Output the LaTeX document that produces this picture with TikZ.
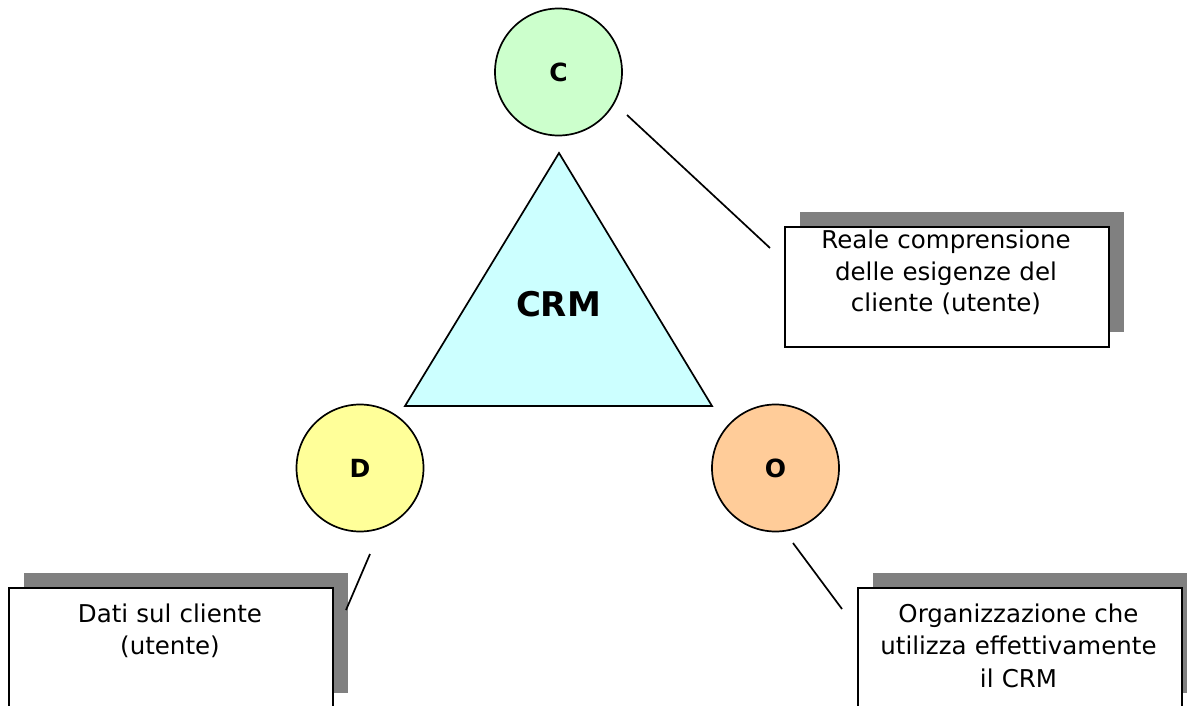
\documentclass[tikz,border=0pt]{standalone}
\usepackage{fontspec}
\setmainfont{DejaVu Sans}
\usetikzlibrary{shadows}
\definecolor{cgreen}{HTML}{CCFFCC}
\definecolor{tcyan}{HTML}{CCFFFF}
\definecolor{dyellow}{HTML}{FFFF99}
\definecolor{oorange}{HTML}{FFCC99}
\definecolor{shadowgray}{HTML}{808080}
\begin{document}
\begin{tikzpicture}[x=1pt,y=-1pt,
  circ/.style={circle,draw,line width=1.7pt,minimum size=127pt,inner sep=0pt,
    font=\fontsize{25}{30}\selectfont\bfseries},
  labelbox/.style={draw,fill=white,line width=1.9pt,minimum width=324pt,minimum height=120pt,
    inner sep=0pt,anchor=north west,
    drop shadow={shadow xshift=15pt,shadow yshift=15pt,opacity=1,fill=shadowgray}},
  labeltext/.style={text width=320pt,align=center,inner sep=0pt,anchor=base,
    font=\fontsize{24.5}{31.8}\selectfont},
  conn/.style={line width=1.7pt},
  tri/.style={draw,fill=tcyan,line width=1.7pt,line join=miter}]
\useasboundingbox (0,0) rectangle (1187,706);
% triangle
\coordinate (tA) at (559,153);
\coordinate (tB) at (712,406);
\coordinate (tC) at (405,406);
\draw[tri] (tA) -- (tB) -- (tC) -- cycle;
\node[font=\fontsize{34}{40}\selectfont\bfseries] (crm) at (558.5,304) {CRM};
% circles
\node[circ,fill=cgreen] (C) at (558.5,72) {C};
\node[circ,fill=dyellow] (D) at (360,468) {D};
\node[circ,fill=oorange] (O) at (775.5,468) {O};
% boxes
\node[labelbox] (cbox) at (784,226) {};
\node[labelbox] (dbox) at (8,587) {};
\node[labelbox] (obox) at (857,587) {};
\node[labeltext] (ctext) at (946,248.3) {Reale comprensione\\delle esigenze del\\cliente (utente)};
\node[labeltext] (dtext) at (170,622.5) {Dati sul cliente\\(utente)};
\node[labeltext,font=\fontsize{24.5}{32.5}\selectfont] (otext) at (1018.5,622) {Organizzazione che\\utilizza effettivamente\\il CRM};
% connectors
\coordinate (c1) at (627,115);
\coordinate (c2) at (770,248);
\coordinate (d1) at (370,554);
\coordinate (d2) at (346,610);
\coordinate (o1) at (793,543);
\coordinate (o2) at (842,609);
\draw[conn] (c1) -- (c2);
\draw[conn] (d1) -- (d2);
\draw[conn] (o1) -- (o2);
\end{tikzpicture}
\end{document}
